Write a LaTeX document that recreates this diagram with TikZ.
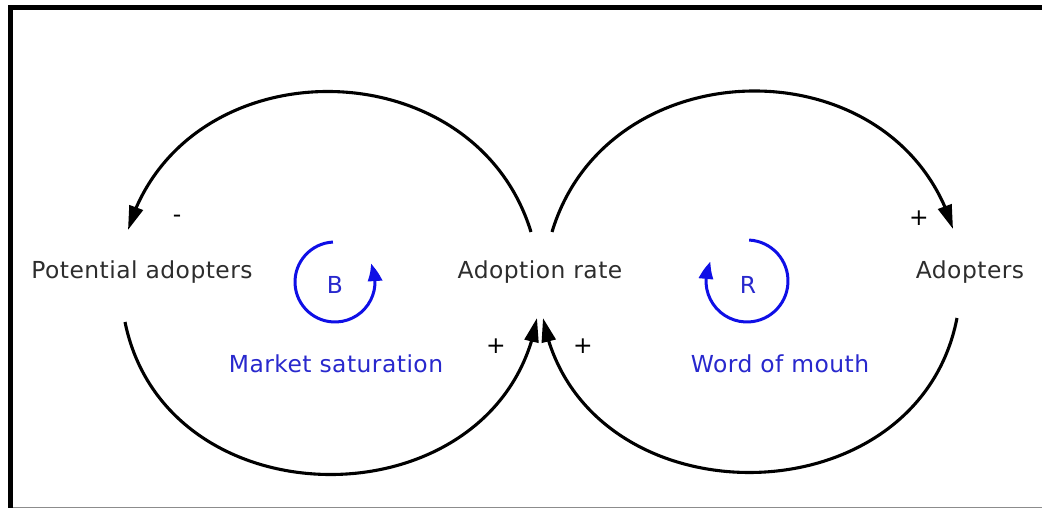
\documentclass[tikz,border=0pt]{standalone}
\usepackage{fontspec}
\setmainfont{DejaVu Sans}[LetterSpace=2]
\usetikzlibrary{arrows.meta,calc,bending}
\definecolor{labtext}{RGB}{45,45,45}
\definecolor{looptext}{RGB}{40,40,205}
\definecolor{loopline}{RGB}{15,15,230}
\tikzset{
  lab/.style={text=labtext,font=\fontsize{23.4}{27}\selectfont,inner sep=0pt},
  looplab/.style={text=looptext,font=\fontsize{23.4}{27}\selectfont,inner sep=0pt},
  sign/.style={text=black,font=\fontsize{23.4}{27}\selectfont,inner sep=0pt},
  link/.style={line width=3.1pt,black,-{Triangle[length=24pt,width=14pt]}},
  loopc/.style={line width=3pt,loopline,-{Triangle[length=18pt,width=14pt,bend]}},
}
\begin{document}
\begin{tikzpicture}[x=1pt,y=1pt]
\useasboundingbox (0,0) rectangle (1042,508);
% frame
\draw[line width=5pt,line join=miter] (10.5,0) -- (10.5,500.5) -- (1042,500.5);
\draw[line width=0.8pt,black!45] (13,0.8) -- (1042,0.8);
% variables
\node[lab] (pot) at (142,236) {Potential adopters};
\node[lab] (rate) at (540,236) {Adoption rate};
\node[lab] (adop) at (970,236) {Adopters};
% loop names
\node[looplab] (ms) at (336,144) {Market saturation};
\node[looplab] (wom) at (780,144) {Word of mouth};
\node[looplab] (B) at (335,223) {B};
\node[looplab] (R) at (748,223) {R};
% polarity signs
\node[sign] (sminus) at (177,289) {-};
\node[sign] (splusA) at (919,290) {+};
\node[sign] (splusB) at (496,162) {+};
\node[sign] (splusC) at (583,162) {+};
% causal links
\draw[link] ($(rate)+(-9,40)$) .. controls +(-57,186) and +(56,186) .. ($(pot)+(-14,42)$);
\draw[link] ($(pot)+(-17,-50)$) .. controls +(42,-206) and +(-36,-206) .. ($(rate)+(-3,-46)$);
\draw[link] ($(rate)+(12,40)$) .. controls +(56,186) and +(-56,186) .. ($(adop)+(-17,43)$);
\draw[link] ($(adop)+(-13,-46)$) .. controls +(-40,-206) and +(38,-206) .. ($(rate)+(3,-46)$);
% loop symbols
\draw[loopc] ($(B)+(0,3)+(93:40)$) arc[start angle=93,end angle=387,radius=40];
\draw[loopc] ($(R)+(-1,4)+(87:41)$) arc[start angle=87,end angle=-208,radius=41];
\end{tikzpicture}
\end{document}
